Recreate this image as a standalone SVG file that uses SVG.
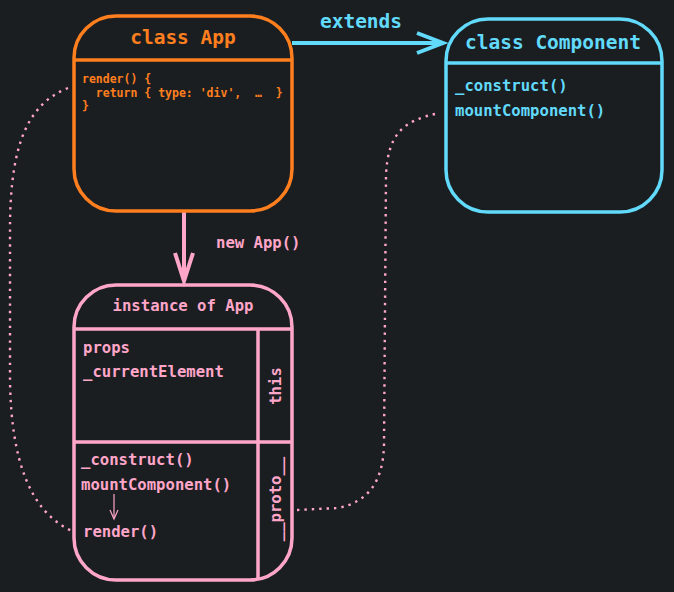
<svg xmlns="http://www.w3.org/2000/svg" width="674" height="592" viewBox="0 0 674 592">
<style>
text{font-family:"DejaVu Sans Mono","Liberation Mono",monospace;font-weight:bold}
.o{fill:#ff7f1e}.b{fill:#61dafb}.p{fill:#ffa6c9}
.box{fill:none;stroke-width:3.5}
.dot{fill:none;stroke:#ffa6c9;stroke-width:2.4;stroke-dasharray:2.4 5}
.t{font-size:15.6px}
</style>
<rect width="674" height="592" fill="#1b1e21"/>
<g id="connectors">
<path d="M292 43 H442" stroke="#61dafb" stroke-width="4" fill="none"/>
<path d="M417 33 L443 43 L417 53" stroke="#61dafb" stroke-width="4" fill="none"/>
<text x="361" y="28" class="b" font-size="19.5" text-anchor="middle">extends</text>
<path d="M184 211 V280" stroke="#ffa6c9" stroke-width="4" fill="none"/>
<path d="M175 253 L184 281 L193 253" stroke="#ffa6c9" stroke-width="4" fill="none"/>
<text x="216" y="248" class="p t">new App()</text>
<path class="dot" d="M68 88 C25 105 10 150 10 230 L10 380 C11 460 30 512 72 531"/>
<path class="dot" d="M297 510 L338 508 C368 502 383 482 384 445 L386 175 C388 135 402 120 440 113"/>
<path d="M114 494 V518" stroke="#ffa6c9" stroke-width="1.2" fill="none"/>
<path d="M110 510 L114 519 L118 510" stroke="#ffa6c9" stroke-width="1.2" fill="none"/>
</g>
<g id="classApp" stroke="#ff7f1e">
<rect class="box" x="74" y="16" width="218" height="195" rx="42"/>
<path d="M74 60 H292" stroke-width="3.5"/>
<g stroke="none">
<text x="183" y="44" class="o" font-size="19.5" text-anchor="middle">class App</text>
<text x="82" y="83" class="o" font-size="11.5">render() {</text>
<text x="82" y="97" class="o" font-size="11.5" xml:space="preserve">  return { type: 'div',  …  }</text>
<text x="82" y="110" class="o" font-size="11.5">}</text>
</g>
</g>
<g id="classComponent" stroke="#61dafb">
<rect class="box" x="446" y="19" width="216" height="193" rx="42"/>
<path d="M446 63 H662" stroke-width="3.5"/>
<g stroke="none">
<text x="553" y="49" class="b" font-size="19.5" text-anchor="middle">class Component</text>
<text x="455" y="91" class="b t">_construct()</text>
<text x="455" y="116" class="b t">mountComponent()</text>
</g>
</g>
<g id="instance" stroke="#ffa6c9">
<rect class="box" x="74" y="285" width="218" height="295" rx="42"/>
<path d="M74 329 H292 M74 442 H292 M258 329 V579" stroke-width="3.5" fill="none"/>
<g stroke="none">
<text x="183" y="311" class="p t" text-anchor="middle">instance of App</text>
<text x="83" y="353" class="p t">props</text>
<text x="83" y="377" class="p t">_currentElement</text>
<text x="81" y="465" class="p t">_construct()</text>
<text x="81" y="490" class="p t">mountComponent()</text>
<text x="83" y="537" class="p t">render()</text>
<text transform="translate(281 386) rotate(-90)" class="p t" text-anchor="middle">this</text>
<text transform="translate(281 499) rotate(-90)" class="p t" text-anchor="middle">__proto__</text>
</g>
</g>
</svg>
